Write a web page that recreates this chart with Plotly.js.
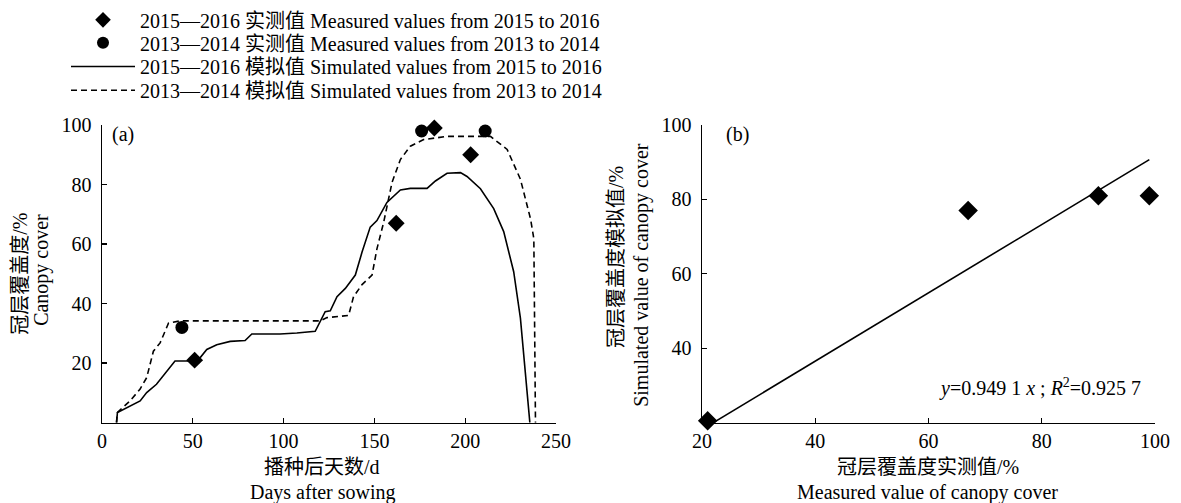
<!DOCTYPE html>
<html>
<head>
<meta charset="utf-8">
<script src="https://cdn.plot.ly/plotly-3.0.1.min.js"></script>
<style>html,body{margin:0;padding:0;background:#fff;}#chart{width:1181px;height:503px;}</style>
</head>
<body>
<div id="chart"></div>
<script>
// ---- Panel (a): canopy cover vs days after sowing ----
const measured1516Days = [51, 162, 183, 203];
const measured1516Vals = [21, 67, 99, 90];
const measured1314Days = [44, 176, 211];
const measured1314Vals = [32, 98, 98];

const sim1516Days = [8, 8.5, 21, 24.6, 30, 35.7, 40.2, 50.3, 54, 57.7, 63.2, 70.6, 78.8, 82.5, 98, 107.3, 117.4, 122.9, 125.7, 129.4, 134, 139.5, 143.2, 147.7, 151.4, 156.9, 164.3, 169.8, 179, 183.6, 190, 197.4, 201, 208.4, 215.7, 221.2, 226.7, 230.4, 233.2, 235.6];
const sim1516Vals = [0, 3.4, 7.3, 10.1, 12.9, 17.3, 20.7, 20.7, 21.8, 24.6, 26.2, 27.3, 27.6, 29.8, 29.8, 30.1, 30.7, 37.3, 37.6, 42.3, 45.1, 49.6, 57.3, 65.7, 67.9, 74, 78.2, 78.7, 78.7, 81.2, 83.8, 84, 82.7, 78.6, 71.9, 64.2, 50.7, 35.1, 15.1, 0];

const sim1314Days = [8, 8.4, 15.4, 20.9, 24.6, 28.3, 32, 36.6, 43, 120.2, 123.9, 135.8, 138.5, 143.2, 148.7, 151.4, 155.1, 159.7, 164.3, 169.8, 177.1, 190, 213.9, 223.1, 230.4, 236, 237.8, 238.7];
const sim1314Vals = [0, 3.4, 7.3, 11.2, 15.1, 24, 26.8, 33.4, 34.2, 34.2, 35.3, 36, 42.3, 46.4, 49.6, 58.4, 67.3, 80.7, 88.4, 92.9, 95.1, 96.2, 96.2, 91.8, 81.8, 68.4, 61.8, 0];

const xTicksA = [0, 50, 100, 150, 200, 250];
const yTicksA = [20, 40, 60, 80, 100];

// ---- Panel (b): simulated vs measured ----
const measuredB = [21, 67, 90, 99];
const simulatedB = [20.5, 77, 81, 81];
const fitX = [22, 99];
const fitY = [20, 90.7];
const xTicksB = [20, 40, 60, 80, 100];
const yTicksB = [40, 60, 80, 100];

const legendNames = [
  "2015—2016 实测值 Measured values from 2015 to 2016",
  "2013—2014 实测值 Measured values from 2013 to 2014",
  "2015—2016 模拟值 Simulated values from 2015 to 2016",
  "2013—2014 模拟值 Simulated values from 2013 to 2014"
];

const FONT = "'Liberation Serif', 'Times New Roman', 'Noto Sans CJK SC', serif";
const W = 1181, H = 503;
const px = v => v / W;
const py = v => 1 - v / H;

const traces = [
  {x: measured1516Days, y: measured1516Vals, type: 'scatter', mode: 'markers', name: legendNames[0], legend: 'legend',
   marker: {symbol: 'diamond', size: 13, color: '#000'}, cliponaxis: false, xaxis: 'x', yaxis: 'y'},
  {x: measured1314Days, y: measured1314Vals, type: 'scatter', mode: 'markers', name: legendNames[1], legend: 'legend2',
   marker: {symbol: 'circle', size: 13, color: '#000'}, cliponaxis: false, xaxis: 'x', yaxis: 'y'},
  {x: sim1516Days, y: sim1516Vals, type: 'scatter', mode: 'lines', name: legendNames[2], legend: 'legend3',
   line: {color: '#000', width: 1.6}, cliponaxis: false, xaxis: 'x', yaxis: 'y'},
  {x: sim1314Days, y: sim1314Vals, type: 'scatter', mode: 'lines', name: legendNames[3], legend: 'legend4',
   line: {color: '#000', width: 1.6, dash: '6px,4px'}, cliponaxis: false, xaxis: 'x', yaxis: 'y'},
  {x: fitX, y: fitY, type: 'scatter', mode: 'lines', showlegend: false,
   line: {color: '#000', width: 1.6}, cliponaxis: false, xaxis: 'x2', yaxis: 'y2'},
  {x: measuredB, y: simulatedB, type: 'scatter', mode: 'markers', showlegend: false,
   marker: {symbol: 'diamond', size: 15, color: '#000'}, cliponaxis: false, xaxis: 'x2', yaxis: 'y2'}
];

const axisCommon = {
  showline: true, linecolor: '#000', linewidth: 1.5, showgrid: false, zeroline: false,
  ticks: 'inside', ticklen: 5, tickwidth: 1.3, tickcolor: '#000',
  tickfont: {family: FONT, size: 20, color: '#000'}, fixedrange: true
};

function legendAt(yPix, sizing) {
  return {x: px(66), y: py(yPix), xanchor: 'left', yanchor: 'middle', bgcolor: 'rgba(0,0,0,0)',
          font: {family: FONT, size: 20, color: '#000'}, itemwidth: 64, itemsizing: sizing};
}

function ann(text, xPix, yPix, extra) {
  return Object.assign({text: text, x: px(xPix), y: py(yPix), xref: 'paper', yref: 'paper',
    xanchor: 'center', yanchor: 'middle', showarrow: false, font: {size: 20}}, extra || {});
}

const layout = {
  width: W, height: H,
  margin: {l: 0, r: 0, t: 0, b: 0},
  paper_bgcolor: '#fff', plot_bgcolor: '#fff',
  font: {family: FONT, size: 20, color: '#000'},
  showlegend: true,
  legend: legendAt(16, 'constant'),
  legend2: legendAt(39, 'constant'),
  legend3: legendAt(63, 'trace'),
  legend4: legendAt(87, 'trace'),
  xaxis: Object.assign({}, axisCommon, {domain: [px(102), px(556)], range: [0, 250], tickvals: xTicksA, anchor: 'y'}),
  yaxis: Object.assign({}, axisCommon, {domain: [1 - 422 / H, 1 - 122 / H], range: [0, 100], tickvals: yTicksA, anchor: 'x', ticklabelstandoff: 5}),
  xaxis2: Object.assign({}, axisCommon, {domain: [px(702), px(1155)], range: [20, 100], tickvals: xTicksB, anchor: 'y2'}),
  yaxis2: Object.assign({}, axisCommon, {domain: [1 - 422 / H, 1 - 122 / H], range: [20, 100], tickvals: yTicksB, anchor: 'x2', ticklabelstandoff: 5}),
  annotations: [
    ann('(a)', 123, 132),
    ann('(b)', 737, 132),
    ann('冠层覆盖度/%', 20, 272, {textangle: -90}),
    ann('Canopy cover', 42, 268, {textangle: -90}),
    ann('播种后天数/d', 322, 467),
    ann('Days after sowing', 323, 492),
    ann('冠层覆盖度模拟值/%', 616, 255, {textangle: -90}),
    ann('Simulated value of canopy cover', 642, 273, {textangle: -90}),
    ann('冠层覆盖度实测值/%', 928, 467),
    ann('Measured value of canopy cover', 928, 492),
    ann('<i>y</i>=0.949 1 <i>x</i> ; <i>R</i><sup>2</sup>=0.925 7', 1040, 387)
  ]
};

Plotly.newPlot('chart', traces, layout, {staticPlot: true, displayModeBar: false});
</script>
</body>
</html>
